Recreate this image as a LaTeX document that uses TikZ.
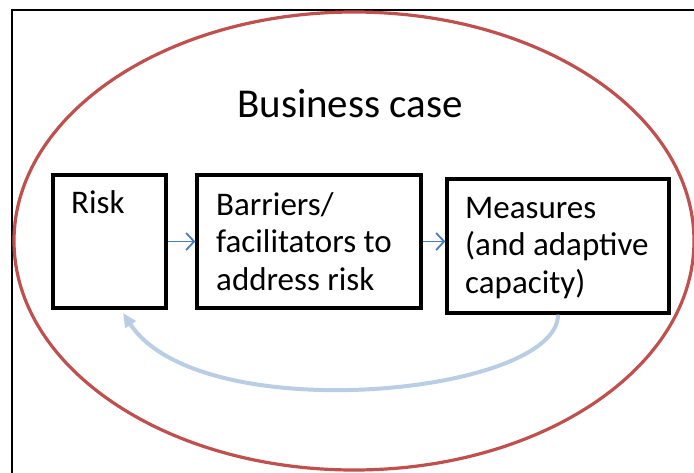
\documentclass[tikz,border=0pt]{standalone}
\usepackage{fontspec}
\setmainfont{Carlito}
\usetikzlibrary{arrows.meta}
\definecolor{ellred}{HTML}{C0504D}
\definecolor{arrblue}{HTML}{4A7EBB}
\definecolor{fbblue}{HTML}{B9CDE5}
\tikzset{
  box/.style={draw=black, line width=3.3pt, rectangle, inner sep=0pt},
  txt/.style={inner sep=0pt, align=left, font=\fontsize{33}{37.5}\selectfont},
  title/.style={inner sep=0pt, font=\fontsize{41}{46}\selectfont},
  smallarrow/.style={draw=arrblue, line width=1.6pt, -{Straight Barb[length=8pt,width=17pt,line width=1.8pt]}},
  feedback/.style={draw=fbblue, line width=4pt, -{Triangle[length=14pt,width=12pt]}}
}
\begin{document}
\begin{tikzpicture}[x=1pt,y=-1pt]
\useasboundingbox (0,0) rectangle (694,472);
\clip (0,0) rectangle (694,472);
\fill[white] (0,0) rectangle (694,472);
% frame
\draw[line width=2.2pt] (12,480) -- (12,10) -- (700,10);
% ellipse
\draw[ellred, line width=3.2pt] (354,241) ellipse [x radius=340, y radius=229];
% title
\node[title, anchor=base] (title) at (350,117) {Business case};
% boxes
\node[box, minimum width=113pt, minimum height=133pt] (risk) at (109.5,241.5) {};
\node[box, minimum width=224pt, minimum height=133pt] (barriers) at (309,241.5) {};
\node[box, minimum width=222pt, minimum height=134pt] (measures) at (558,246) {};
% texts (base anchor = baseline of last line)
\node[txt, anchor=base west] (risktxt) at (71,213) {Risk};
\node[txt, anchor=base west] (bartxt) at (216,290) {Barriers/\\facilitators to\\address risk};
\node[txt, anchor=base west] (meastxt) at (465,293) {Measures\\(and adaptive\\capacity)};
% arrows
\draw[smallarrow] (risk.east) -- (barriers.west);
\draw[smallarrow] (barriers.east) -- (barriers.east -| measures.west);
\coordinate (fbend) at (123,313);
\draw[feedback] (measures.south) .. controls (558,395) and (200,430) .. (fbend);
\end{tikzpicture}
\end{document}
